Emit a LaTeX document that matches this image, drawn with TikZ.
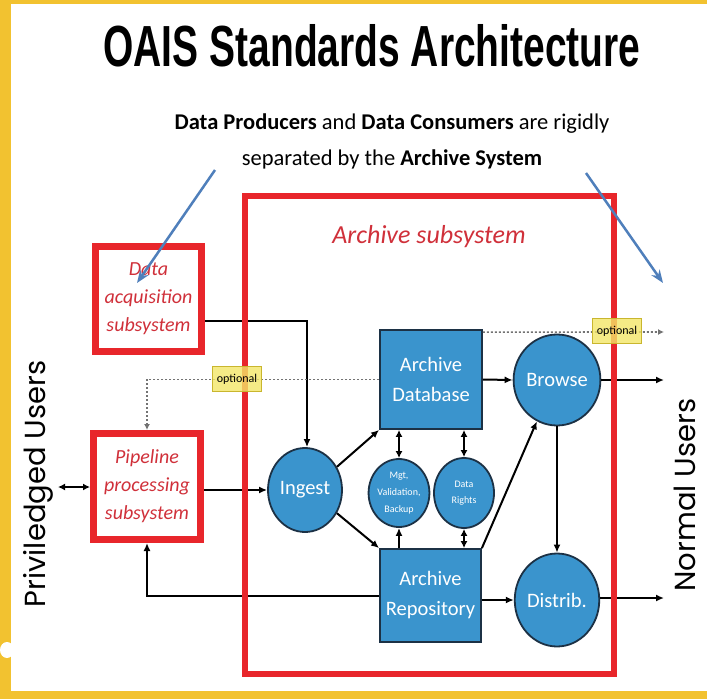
\documentclass[tikz,border=0pt]{standalone}
\usepackage{fontspec}
\setmainfont{Carlito}
\newfontfamily\titlefont{Liberation Sans}
\newfontfamily\gothicfont{Poppins}
\usetikzlibrary{shapes.geometric,arrows.meta,calc}
\definecolor{frameyellow}{HTML}{F2C230}
\definecolor{boxred}{HTML}{E8262B}
\definecolor{textred}{HTML}{D0303A}
\definecolor{nodeblue}{HTML}{3A94CD}
\definecolor{nodeedge}{HTML}{1C3145}
\definecolor{optyellow}{HTML}{F3E768}
\definecolor{optedge}{HTML}{C9B62E}
\definecolor{pointerblue}{HTML}{4F7FBB}
\newcommand\oaistitletext{OAIS Standards Architecture}
\tikzset{
  redbox/.style={draw=boxred, line width=7pt, fill=white, inner sep=0pt, align=center,
    font=\itshape\fontsize{20}{28}\selectfont, text=textred},
  bluerect/.style={draw=nodeedge, line width=1.8pt, fill=nodeblue, text=white, align=center,
    font=\fontsize{20.5}{30}\selectfont, inner sep=0pt},
  blueell/.style={bluerect, ellipse},
  smallell/.style={blueell, font=\fontsize{10}{17}\selectfont},
  conn/.style={line width=2pt, -{Latex[length=8pt,width=7pt]}},
  twoway/.style={line width=2pt, {Latex[length=7pt,width=7pt]}-{Latex[length=7pt,width=7pt]}},
  optline/.style={draw=black!55, line width=1.6pt, dash pattern=on 2pt off 2pt,
    -{Latex[length=6pt,width=6pt]}},
  optlabel/.style={fill=optyellow, fill opacity=0.8, text opacity=1, draw=optedge, line width=0.8pt,
    font=\fontsize{12}{12}\selectfont, minimum width=49pt, minimum height=25pt, inner sep=0pt},
  pointer/.style={draw=pointerblue, line width=2.5pt, -{Stealth[open,length=13pt,width=10pt]}},
  userlabel/.style={rotate=90, font=\gothicfont\fontsize{29}{29}\selectfont, inner sep=0pt}
}
\begin{document}
\begin{tikzpicture}[x=1pt,y=-1pt]
\useasboundingbox (0,0) rectangle (707,699);
\fill[frameyellow] (0,0) rectangle (707,699);
\fill[white] (11,4) rectangle (707,691);
\fill[white] (7,650) ellipse [x radius=7pt, y radius=8pt];

% title and subtitle
\node[font=\titlefont\bfseries\fontsize{58}{60}\selectfont, inner sep=0pt] (title) at (372,46)
  {\resizebox{537pt}{\height}{\oaistitletext}};
\node[align=center, font=\fontsize{22.5}{36}\selectfont] (subtitle) at (392,141)
  {\textbf{Data Producers} and \textbf{Data Consumers} are rigidly\\
   separated by the \textbf{Archive System}};

% user labels
\node[userlabel] (priv) at (38,484) {Priviledged Users};
\node[userlabel] (normal) at (685,495) {Normal Users};

% blue components
\node[bluerect, minimum width=102pt, minimum height=99pt] (db) at (431,379.5) {Archive\\Database};
\node[bluerect, minimum width=101pt, minimum height=93pt] (repo) at (430.5,595.5) {Archive\\Repository};
\node[blueell, minimum width=74pt, minimum height=84pt] (ingest) at (305,490) {Ingest};
\node[smallell, minimum width=60pt, minimum height=68pt] (mgt) at (399,493) {Mgt,\\Validation,\\Backup};
\node[smallell, minimum width=60pt, minimum height=70pt, font=\fontsize{10}{16}\selectfont] (rights) at (464,493) {Data\\Rights};
\node[blueell, minimum width=77pt, minimum height=91pt] (browse) at (557,380) {Browse};
\node[blueell, minimum width=77pt, minimum height=93pt] (distrib) at (557,600) {Distrib.};

% red subsystems outside the archive
\node[redbox, minimum width=106pt, minimum height=105pt] (dacq) at (148.5,299) {\raisebox{-3pt}{\parbox{100pt}{\centering Data\\acquisition\\subsystem}}};
\node[redbox, minimum width=107pt, minimum height=106pt] (pipe) at (147,486.5) {Pipeline\\processing\\subsystem};

% free ends
\coordinate (privend) at (58,487);
\coordinate (optend) at (664,332);
\coordinate (browseend) at (664,380);
\coordinate (distribend) at (664,598);

% connectors
\draw[conn] ([yshift=-22pt]dacq.east) -| ([xshift=2pt]ingest.north);
\draw[optline] (db.west) -| (pipe.north);
\draw[optline] ([yshift=-3pt]db.north east) -- (optend);
\draw[conn] (pipe.east |- ingest.west) -- (ingest.west);
\draw[twoway] (privend) -- (pipe.west |- privend);
\draw[conn] (repo.west) -| (pipe.south);
\draw[conn] (ingest.36) -- (db.south west);
\draw[conn] (ingest.-36) -- (repo.north west);
\draw[twoway] (mgt.north) -- (mgt.north |- db.south);
\draw[twoway] (rights.north) -- (rights.north |- db.south);
\draw[conn] (mgt.south |- repo.north) -- (mgt.south);
\draw[twoway] (rights.south |- repo.north) -- (rights.south);
\draw[conn] (repo.north east) -- (browse.244);
\draw[conn] (db.east) -- (browse.west);
\draw[conn] (repo.east |- distrib.west) -- (distrib.west);
\draw[conn] (browse.south) -- (distrib.north);
\draw[conn] (browse.east) -- (browseend);
\draw[conn] (distrib.east |- distribend) -- (distribend);

% archive subsystem frame
\node[draw=boxred, line width=5.5pt, minimum width=369pt, minimum height=478pt, inner sep=0pt] (archbox) at (429.5,435) {};
\node[font=\itshape\fontsize{26}{28}\selectfont, text=textred] (archtitle) at (429,237) {Archive subsystem};

% optional tags
\node[optlabel] (opt1) at (237,379) {optional};
\node[optlabel] (opt2) at (617,331) {optional};

% blue pointers
\coordinate (lpstart) at (215,170);
\coordinate (lpend) at (137,283);
\coordinate (rpstart) at (586,173);
\coordinate (rpend) at (663,283);
\draw[pointer] (lpstart) -- (lpend);
\draw[pointer] (rpstart) -- (rpend);
\end{tikzpicture}
\end{document}
